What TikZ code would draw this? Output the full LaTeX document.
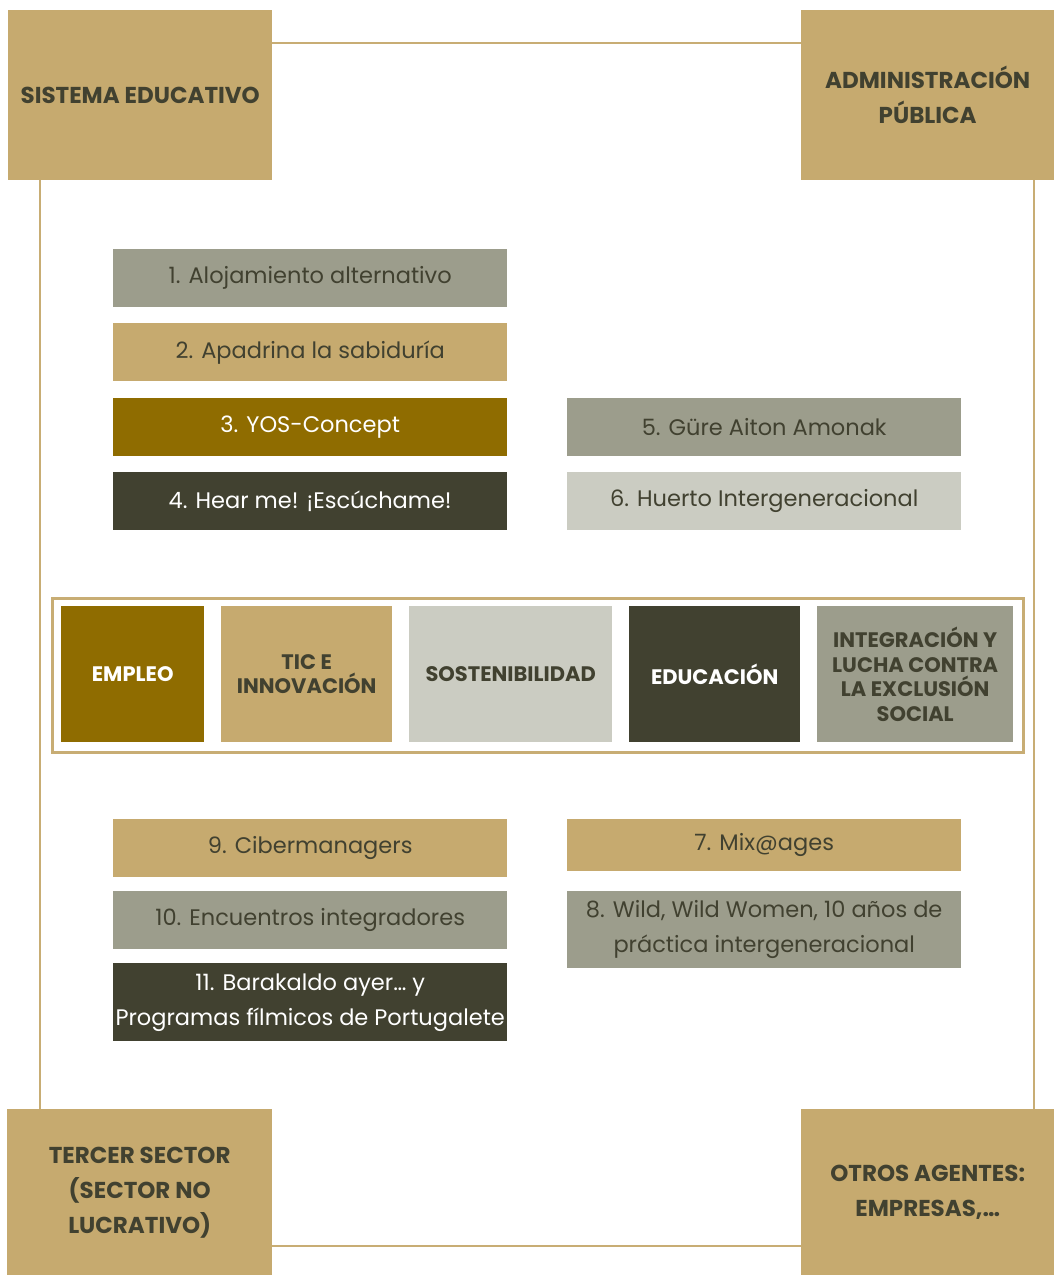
\documentclass[tikz,border=0pt]{standalone}
\usepackage{fontspec}
\setmainfont{Poppins}
\definecolor{cgold}{HTML}{C6AA6F}
\definecolor{cgray}{HTML}{9C9D8C}
\definecolor{cbrown}{HTML}{8F6C00}
\definecolor{cdark}{HTML}{414130}
\definecolor{clight}{HTML}{CBCCC2}
\definecolor{cline}{HTML}{C8AD74}
\begin{document}
\begin{tikzpicture}[x=1pt,y=-1pt,
  box/.style={anchor=north west, inner sep=0pt, align=center, text=cdark},
  corner/.style={box, fill=cgold, minimum height=170pt, font=\fontsize{23}{35}\selectfont\bfseries},
  proj/.style={box, minimum width=394pt, minimum height=58pt, font=\fontsize{22.5}{35}\selectfont},
  theme/.style={box, minimum height=136pt, font=\fontsize{21}{24.5}\selectfont\bfseries},
  conn/.style={draw=cline, line width=2.6pt}]
\useasboundingbox (0,0) rectangle (1054,1275);
% corner boxes
\node[corner, minimum width=264pt] (se) at (8,10) {SISTEMA EDUCATIVO};
\node[corner, minimum width=253pt] (ap) at (801,10) {ADMINISTRACIÓN\\PÚBLICA};
\node[corner, minimum width=265pt, minimum height=166pt] (ts) at (7,1109) {TERCER SECTOR\\(SECTOR NO\\LUCRATIVO)};
\node[corner, minimum width=253pt, minimum height=166pt] (oa) at (801,1109) {OTROS AGENTES:\\EMPRESAS,…};
% connectors
\coordinate (ytop) at (0,43);
\coordinate (ybot) at (0,1246);
\coordinate (xl) at (40,0);
\coordinate (xr) at (1034,0);
\draw[conn] (se.east |- ytop) -- (ap.west |- ytop);
\draw[conn] (ts.east |- ybot) -- (oa.west |- ybot);
\draw[conn] (se.south -| xl) -- (ts.north -| xl);
\draw[conn] (ap.south -| xr) -- (oa.north -| xr);
% projects upper
\node[proj, fill=cgray] (p1) at (113,249) {1. Alojamiento alternativo};
\node[proj, fill=cgold] (p2) at (113,323) {2. Apadrina la sabiduría};
\node[proj, fill=cbrown, text=white] (p3) at (113,398) {3. YOS-Concept};
\node[proj, fill=cdark, text=white] (p4) at (113,472) {4. Hear me! ¡Escúchame!};
\node[proj, fill=cgray] (p5) at (567,398) {5. Güre Aiton Amonak};
\node[proj, fill=clight] (p6) at (567,472) {6. Huerto Intergeneracional};
% theme band
\node[draw=cline, line width=2.6pt, anchor=north west, minimum width=971pt, minimum height=154pt, inner sep=0pt] (frame) at (51,597) {};
\node[theme, fill=cbrown, text=white, minimum width=143pt] (t1) at (61,606) {EMPLEO};
\node[theme, fill=cgold, minimum width=171pt] (t2) at (221,606) {TIC E\\INNOVACIÓN};
\node[theme, fill=clight, minimum width=203pt] (t3) at (409,606) {SOSTENIBILIDAD};
\node[theme, fill=cdark, text=white, minimum width=171pt] (t4) at (629,606) {EDUCACIÓN};
\node[theme, fill=cgray, minimum width=196pt] (t5) at (817,606) {INTEGRACIÓN Y\\LUCHA CONTRA\\LA EXCLUSIÓN\\SOCIAL};
% projects lower
\node[proj, fill=cgold] (p9) at (113,819) {9. Cibermanagers};
\node[proj, fill=cgray] (p10) at (113,891) {10. Encuentros integradores};
\node[proj, fill=cdark, text=white, minimum height=78pt] (p11) at (113,963) {11. Barakaldo ayer… y\\Programas fílmicos de Portugalete};
\node[proj, fill=cgold, minimum height=52pt] (p7) at (567,819) {7. Mix@ages};
\node[proj, fill=cgray, minimum height=77pt] (p8) at (567,891) {8. Wild, Wild Women, 10 años de\\práctica intergeneracional};
\end{tikzpicture}
\end{document}
